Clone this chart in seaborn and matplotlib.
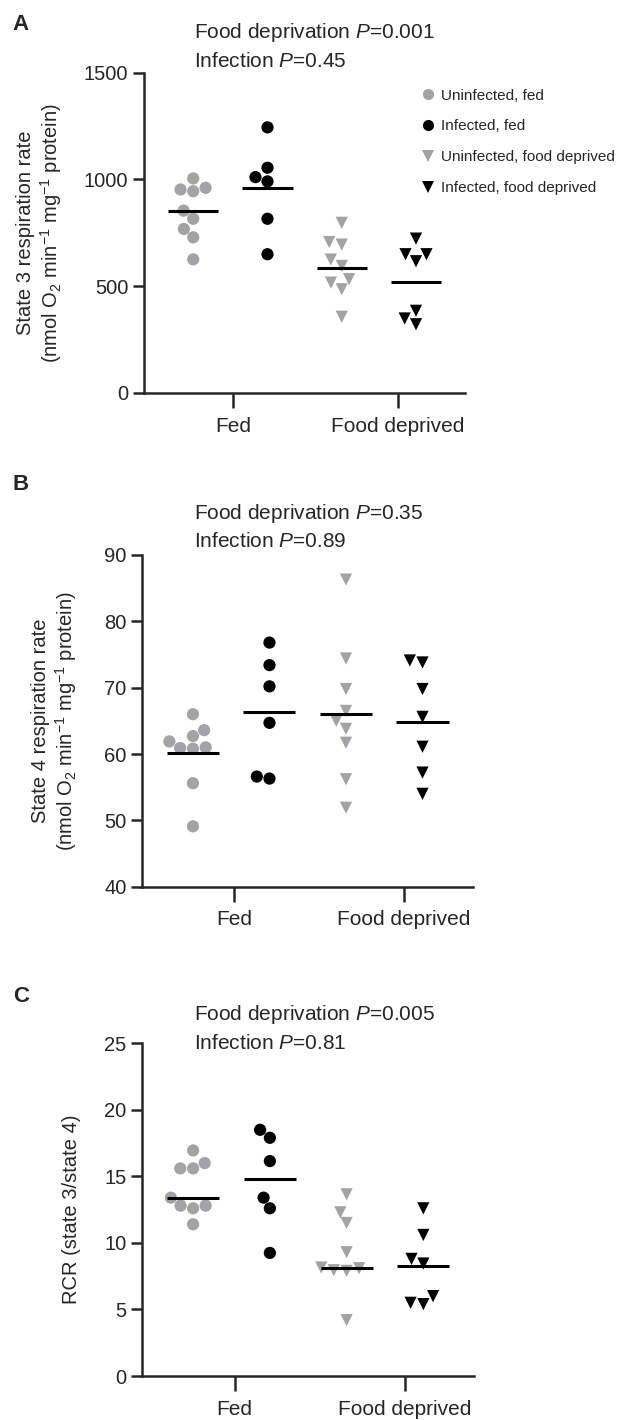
import numpy as np
import pandas as pd
import matplotlib
matplotlib.use('Agg')
import matplotlib.pyplot as plt
import seaborn as sns
from matplotlib.lines import Line2D

# --- data ---
groups = ['Uninfected, fed', 'Infected, fed', 'Uninfected, food deprived', 'Infected, food deprived']
xtick_labels = ['Fed', 'Food deprived']

# Panel A: state 3 respiration
a_unf_fed = [961, 1005, 945, 953, 854, 816, 768, 729, 626]
a_inf_fed = [1244, 1011, 1055, 991, 816, 650]
a_unf_fd = [797, 707, 695, 625, 595, 533, 517, 486, 357]
a_inf_fd = [723, 650, 617, 650, 385, 322, 349]
a_lines = [854, 961, 586, 520]

# Panel B: state 4 respiration
b_unf_fed = [66.0, 62.7, 63.6, 61.9, 61.0, 60.8, 60.9, 55.6, 49.1]
b_inf_fed = [76.8, 73.4, 70.2, 64.7, 56.3, 56.6]
b_unf_fd = [86.3, 74.4, 69.8, 66.5, 65.0, 63.8, 61.7, 56.2, 51.9]
b_inf_fd = [74.1, 73.8, 69.8, 65.6, 61.1, 57.2, 54.0]
b_lines = [60.1, 66.4, 66.0, 64.9]

# Panel C: RCR
c_unf_fed = [16.95, 16.0, 15.6, 15.6, 13.4, 12.8, 12.8, 12.6, 11.4]
c_inf_fed = [18.5, 17.9, 16.15, 13.4, 12.6, 9.25]
c_unf_fd = [13.65, 12.3, 11.5, 9.3, 8.15, 7.95, 8.1, 7.9, 4.2]
c_inf_fd = [12.6, 10.6, 8.8, 8.45, 6.0, 5.4, 5.5]
c_lines = [13.4, 14.8, 8.1, 8.3]

GRAY = '#a3a3a5'
pal = {'Uninfected': GRAY, 'Infected': 'black'}

sns.set_style('ticks')
plt.rcParams['font.family'] = ['Liberation Sans', 'DejaVu Sans']
plt.rcParams['mathtext.fontset'] = 'custom'
plt.rcParams['mathtext.rm'] = 'Liberation Sans'
plt.rcParams['mathtext.it'] = 'Liberation Sans:italic'

W, H = 635, 1420
fig = plt.figure(figsize=(W / 100, H / 100), dpi=100)


def px_axes(left, top, right, bottom):
    return fig.add_axes([left / W, 1 - bottom / H, (right - left) / W, (bottom - top) / H])


def long_df(series):
    rows = []
    for g, vals in zip(groups, series):
        for v in vals:
            rows.append({'group': g, 'value': v,
                         'infection': 'Uninfected' if g.startswith('Uninfected') else 'Infected',
                         'fed': g.endswith(', fed')})
    return pd.DataFrame(rows)


panels = [
    dict(series=[a_unf_fed, a_inf_fed, a_unf_fd, a_inf_fd], lines=a_lines,
         box=(143.5, 72.7, 465, 393), ylim=(0, 1500), yticks=[0, 500, 1000, 1500],
         ylabel='State 3 respiration rate\n(nmol O$_2$ min$^{-1}$ mg$^{-1}$ protein)',
         letter='A', letter_xy=(12, 25), labelpad=14,
         ann=['Food deprivation $\\it{P}$=0.001', 'Infection $\\it{P}$=0.45'], ann_xy=(194, 33)),
    dict(series=[b_unf_fed, b_inf_fed, b_unf_fd, b_inf_fd], lines=b_lines,
         box=(141.7, 555, 473, 886.7), ylim=(40, 90), yticks=[40, 50, 60, 70, 80, 90],
         ylabel='State 4 respiration rate\n(nmol O$_2$ min$^{-1}$ mg$^{-1}$ protein)',
         letter='B', letter_xy=(13, 485), labelpad=18,
         ann=['Food deprivation $\\it{P}$=0.35', 'Infection $\\it{P}$=0.89'], ann_xy=(194, 513)),
    dict(series=[c_unf_fed, c_inf_fed, c_unf_fd, c_inf_fd], lines=c_lines,
         box=(141.7, 1043.3, 474, 1376), ylim=(0, 25), yticks=[0, 5, 10, 15, 20, 25],
         ylabel='RCR (state 3/state 4)',
         letter='C', letter_xy=(13, 996), labelpad=17,
         ann=['Food deprivation $\\it{P}$=0.005', 'Infection $\\it{P}$=0.81'], ann_xy=(194, 1015)),
]

for p in panels:
    ax = px_axes(*p['box'])
    df = long_df(p['series'])
    sns.swarmplot(data=df[df['fed']], x='group', y='value', hue='infection', palette=pal,
                  hue_order=['Uninfected', 'Infected'], order=groups, marker='o',
                  size=8.8, linewidth=0, legend=False, ax=ax)
    sns.swarmplot(data=df[~df['fed']], x='group', y='value', hue='infection', palette=pal,
                  hue_order=['Uninfected', 'Infected'], order=groups, marker='v',
                  size=8.8, linewidth=0, legend=False, ax=ax)
    pos = np.arange(len(groups))
    ax.hlines(p['lines'], pos - 0.34, pos + 0.34, color='black', lw=2.2, zorder=5)

    ax.set_xlim(-0.67, 3.66)
    ax.set_ylim(*p['ylim'])
    ax.set_yticks(p['yticks'])
    ax.set_xticks([0.54, 2.76])
    ax.set_xticklabels(xtick_labels)
    ax.set_xlabel('')
    ax.set_ylabel(p['ylabel'], fontsize=14.5, labelpad=p['labelpad'], linespacing=1.15)
    sns.despine(ax=ax)
    for s in ['left', 'bottom']:
        ax.spines[s].set_linewidth(1.8)
    ax.tick_params(axis='y', length=8, width=1.8, labelsize=14.5, pad=3)
    ax.tick_params(axis='x', length=11, width=1.8, labelsize=15, pad=6)

    lx, ly = p['letter_xy']
    fig.text(lx / W, 1 - ly / H, p['letter'], fontsize=16, fontweight='bold', va='center', ha='left')
    tx, ty = p['ann_xy']
    for i, t in enumerate(p['ann']):
        fig.text(tx / W, 1 - (ty + 28.5 * i) / H, t, fontsize=15, va='center', ha='left')

# legend in panel A
handles = [
    Line2D([], [], ls='', marker='o', color=GRAY, markersize=8, markeredgewidth=0),
    Line2D([], [], ls='', marker='o', color='black', markersize=8, markeredgewidth=0),
    Line2D([], [], ls='', marker='v', color=GRAY, markersize=8, markeredgewidth=0),
    Line2D([], [], ls='', marker='v', color='black', markersize=8, markeredgewidth=0),
]
fig.legend(handles, groups, loc='upper left', bbox_to_anchor=(420 / W, 1 - 88.5 / H),
           frameon=False, fontsize=11, labelspacing=1.1, handlelength=1.0,
           handletextpad=0.35, borderpad=0, borderaxespad=0)

fig.savefig('out.png', dpi=100)
